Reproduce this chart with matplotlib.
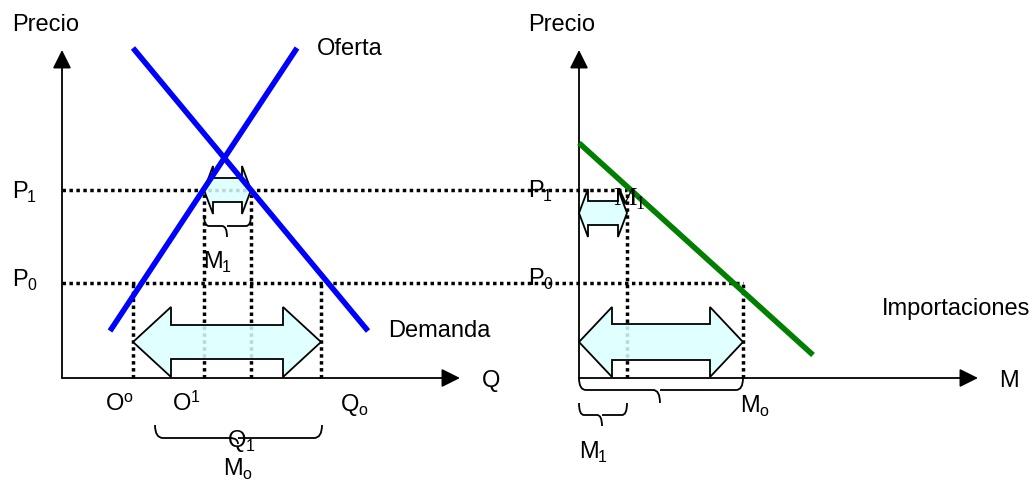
import matplotlib.pyplot as plt
from matplotlib.path import Path
from matplotlib.patches import PathPatch, Polygon

plt.rcParams['font.family'] = ['Liberation Sans', 'DejaVu Sans']

# ---- data (panel units: quantity to the right, price upwards, origin at the axes corner)
prices = {'P1': 188, 'P0': 95}

# left panel: supply / demand
demand_q = [71, 306]
demand_p = [330, 47]
supply_q = [48, 235]
supply_p = [47, 330]
qty_marks = {'O0': 71, 'O1': 142, 'Q1': 189, 'Q0': 259}

# right panel: import demand
imports_q = [0, 234]
imports_p = [235, 23]
imp_marks = {'M1': 48, 'M0': 164}

FILL = (0.86, 1.0, 1.0, 0.85)
fs = 17


def double_arrow(ax, x0, x1, yc, head_len, head_half, shaft_half):
    pts = [(x0, yc), (x0 + head_len, yc + head_half), (x0 + head_len, yc + shaft_half),
           (x1 - head_len, yc + shaft_half), (x1 - head_len, yc + head_half), (x1, yc),
           (x1 - head_len, yc - head_half), (x1 - head_len, yc - shaft_half),
           (x0 + head_len, yc - shaft_half), (x0 + head_len, yc - head_half)]
    ax.add_patch(Polygon(pts, closed=True, facecolor=FILL, edgecolor='black', lw=1.3, zorder=4))


def brace(ax, x0, x1, top, mid, tip, xt, r=6):
    verts = [(x0, top), (x0, mid), (x0 + r, mid), (xt - r, mid), (xt, mid), (xt, tip),
             (xt, mid), (xt + r, mid), (x1 - r, mid), (x1, mid), (x1, top)]
    codes = [Path.MOVETO, Path.CURVE3, Path.CURVE3, Path.LINETO, Path.CURVE3, Path.CURVE3,
             Path.MOVETO, Path.CURVE3, Path.LINETO, Path.CURVE3, Path.CURVE3]
    ax.add_patch(PathPatch(Path(verts, codes), facecolor='none', edgecolor='black', lw=1.3, zorder=5))


def axes_arrows(ax, xmax, ymax):
    kw = dict(arrowstyle='-|>', mutation_scale=28, lw=1.3, color='black', shrinkA=0, shrinkB=0)
    ax.annotate('', xy=(0, ymax), xytext=(0, 0), arrowprops=kw)
    ax.annotate('', xy=(xmax, 0), xytext=(0, 0), arrowprops=kw)


def label(ax, x, y, main, script='', up=False, size=fs, **kw):
    t = ax.text(x, y, main, fontsize=size, ha='left', va='baseline', zorder=7, **kw)
    if script:
        dy = size * 0.42 if up else -size * 0.1
        ax.annotate(script, xy=(1, 0), xycoords=t, xytext=(-0.5, dy), textcoords='offset points',
                    fontsize=size * 0.68, ha='left', va='bottom', zorder=7, **kw)
    return t


dot = dict(color='black', lw=2.5, linestyle=(0, (1, 1)), dash_capstyle='butt', zorder=2)

fig = plt.figure(figsize=(10.33, 4.83), dpi=100)
axl = fig.add_axes([0, 0, 520 / 1033, 1])
axr = fig.add_axes([520 / 1033, 0, 513 / 1033, 1])
axl.set_xlim(-62, 458)
axr.set_xlim(-59, 454)
for ax in (axl, axr):
    ax.set_ylim(-105, 378)
    ax.axis('off')

# ---------------- left panel
axes_arrows(axl, 398, 328)
axl.plot([0, 565], [prices['P1']] * 2, clip_on=False, **dot)
axl.plot([0, 681], [prices['P0']] * 2, clip_on=False, **dot)
axl.plot([qty_marks['O0']] * 2, [0, prices['P0']], **dot)
axl.plot([qty_marks['O1']] * 2, [0, prices['P1']], **dot)
axl.plot([qty_marks['Q1']] * 2, [0, prices['P1']], **dot)
axl.plot([qty_marks['Q0']] * 2, [0, prices['P0']], **dot)

axl.plot(demand_q, demand_p, color='#0000ff', lw=4, solid_capstyle='butt', zorder=6)
axl.plot(supply_q, supply_p, color='#0000ff', lw=4, solid_capstyle='butt', zorder=6)

double_arrow(axl, qty_marks['O0'], qty_marks['Q0'], 36, 38, 35, 17)
double_arrow(axl, qty_marks['O1'], qty_marks['Q1'], prices['P1'], 9, 24, 12)
brace(axl, 142, 189, 163, 152, 141, 165, r=5)
brace(axl, 93, 260, -47, -60, -66, 176, r=8)

axl.text(-50, 353, 'Precio', fontsize=fs, ha='left', va='center')
label(axl, -50, 180, 'P', '1')
label(axl, -50, 92, 'P', '0')
label(axl, 255, 323, 'Oferta')
label(axl, 326, 41, 'Demanda')
label(axl, 420, -9, 'Q')
label(axl, 44, -32, 'O', 'o', up=True)
label(axl, 111, -32, 'O', '1', up=True)
label(axl, 279, -33, 'Q', 'o')
label(axl, 141, 110, 'M', '1')
label(axl, 166, -69, 'Q', '1')
label(axl, 161, -97, 'M', 'o')

# ---------------- right panel
axes_arrows(axr, 399, 328)
axr.plot([imp_marks['M1']] * 2, [0, prices['P1']], **dot)
axr.plot([imp_marks['M0']] * 2, [0, prices['P0']], **dot)
axr.plot(imports_q, imports_p, color='#007f00', lw=4, solid_capstyle='butt', zorder=6)

double_arrow(axr, 0, imp_marks['M0'], 36, 33, 35, 18)
double_arrow(axr, 0, imp_marks['M1'], 165, 9, 24, 12)
brace(axr, 0, imp_marks['M0'], 0, -12, -25, 81, r=7)
brace(axr, 0, imp_marks['M1'], -25, -37, -48, 23, r=5)

axr.text(-51, 353, 'Precio', fontsize=fs, ha='left', va='center')
label(axr, -51, 181, 'P', '1')
label(axr, -51, 93, 'P', '0')
label(axr, 34, 173, 'M', '1', size=fs + 2, family=['Liberation Serif', 'DejaVu Serif'])
label(axr, 303, 63, 'Importaciones')
label(axr, 420, -9, 'M')
label(axr, 161, -34, 'M', 'o')
label(axr, 0, -80, 'M', '1')

fig.savefig('out.png', dpi=100)
